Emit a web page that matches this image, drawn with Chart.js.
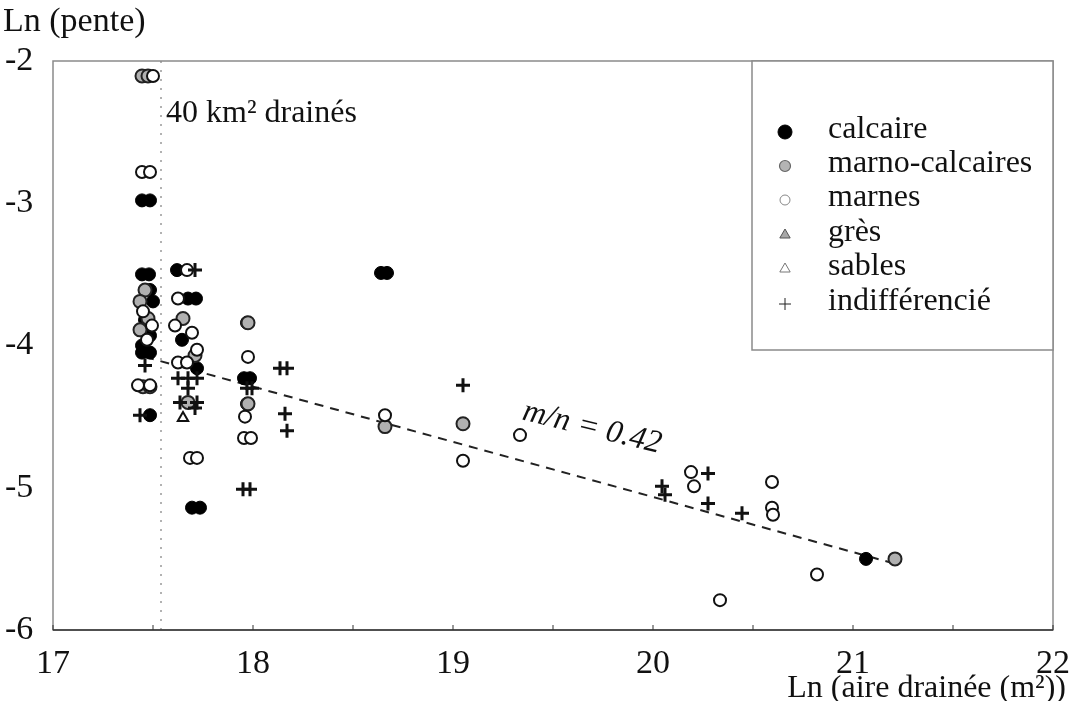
<!DOCTYPE html>
<html>
<head>
<meta charset="utf-8">
<script src="https://cdn.jsdelivr.net/npm/chart.js@4"></script>
<style>
  body { margin: 0; background: #fff; }
</style>
</head>
<body>
<canvas id="chart" width="1073" height="701"></canvas>
<script>
  // values: [Ln(aire drainée), Ln(pente)]
  let calcaire = [
    [17.445, -2.98], [17.485, -2.98], [17.445, -3.50], [17.48, -3.50], [17.485, -3.61],
    [17.50, -3.69], [17.46, -3.82], [17.485, -3.93], [17.445, -4.00], [17.445, -4.05],
    [17.485, -4.05], [17.485, -4.49],
    [17.62, -3.47], [17.675, -3.67], [17.715, -3.67], [17.645, -3.96], [17.72, -4.16],
    [17.695, -5.14], [17.735, -5.14],
    [17.97, -3.84], [17.955, -4.23], [17.985, -4.23], [17.97, -4.41],
    [18.64, -3.49], [18.67, -3.49], [21.065, -5.50]
  ];
  let marnoCalcaires = [
    [17.445, -2.105], [17.475, -2.105], [17.46, -3.61], [17.435, -3.69], [17.435, -3.89],
    [17.475, -3.81], [17.45, -4.29], [17.485, -4.29],
    [17.65, -3.81], [17.71, -4.07], [17.675, -4.40],
    [17.975, -3.84], [17.975, -4.41], [18.66, -4.57], [19.05, -4.55], [21.21, -5.50]
  ];
  let marnes = [
    [17.50, -2.105], [17.445, -2.78], [17.485, -2.78], [17.45, -3.76], [17.495, -3.86],
    [17.47, -3.96], [17.485, -4.28], [17.425, -4.28],
    [17.67, -3.47], [17.625, -3.67], [17.61, -3.86], [17.695, -3.91], [17.625, -4.12],
    [17.67, -4.12], [17.72, -4.03], [17.685, -4.79], [17.72, -4.79],
    [17.975, -4.08], [17.96, -4.50], [17.955, -4.65], [17.99, -4.65],
    [18.66, -4.49], [19.05, -4.81], [19.335, -4.63],
    [20.19, -4.89], [20.205, -4.99], [20.595, -4.96], [20.595, -5.14], [20.60, -5.19],
    [20.82, -5.61], [20.335, -5.79]
  ];
  let gres = [];
  let sables = [[17.65, -4.51]];
  let indifferencie = [
    [17.46, -4.14], [17.435, -4.49], [17.71, -3.47],
    [17.625, -4.23], [17.675, -4.23], [17.72, -4.23], [17.675, -4.30],
    [17.635, -4.40], [17.72, -4.40], [17.71, -4.44],
    [17.97, -4.30], [17.995, -4.30], [18.135, -4.16], [18.17, -4.16], [18.16, -4.48],
    [18.17, -4.60], [17.95, -5.01], [17.985, -5.01], [19.05, -4.28],
    [20.045, -4.99], [20.06, -5.05], [20.275, -4.90], [20.275, -5.11], [20.445, -5.18]
  ];
  // fitted line m/n = 0.42 and the 40 km² threshold
  let regression = [[17.46, -4.08], [21.225, -5.54]];
  let threshold40 = [[17.54, -2], [17.54, -6]];

  let xTickLabels = [17, 18, 19, 20, 21, 22];
  let yTickLabels = [-6, -5, -4, -3, -2];

  let serif = '"Liberation Serif", "DejaVu Serif", serif';

  function toPoints(list) {
    return list.map(p => ({ x: p[0], y: p[1] }));
  }

  let legendItems = [
    { label: 'calcaire', style: 'circle', radius: 7, fill: '#000', stroke: '#000', width: 1 },
    { label: 'marno-calcaires', style: 'circle', radius: 5.5, fill: '#b4b4b4', stroke: '#666', width: 1.2 },
    { label: 'marnes', style: 'circle', radius: 5, fill: '#fff', stroke: '#888', width: 1 },
    { label: 'grès', style: 'triangle', radius: 6, fill: '#a8a8a8', stroke: '#555', width: 1 },
    { label: 'sables', style: 'triangle', radius: 6, fill: '#fff', stroke: '#777', width: 1 },
    { label: 'indifférencié', style: 'cross', radius: 6, fill: '#000', stroke: '#222', width: 1 }
  ];

  let decorPlugin = {
    id: 'decor',
    afterDraw(chart) {
      let ctx = chart.ctx;
      let area = chart.chartArea;
      let xs = chart.scales.x;
      ctx.save();

      // frame
      ctx.strokeStyle = '#8a8a8a';
      ctx.lineWidth = 1.5;
      ctx.strokeRect(area.left, area.top, area.right - area.left, area.bottom - area.top);
      ctx.strokeStyle = '#333';
      ctx.beginPath();
      ctx.moveTo(area.left, area.bottom);
      ctx.lineTo(area.right, area.bottom);
      ctx.stroke();

      // small inward ticks every 0.5
      ctx.lineWidth = 1;
      for (let v = 17; v <= 22.001; v += 0.5) {
        let px = xs.getPixelForValue(v);
        ctx.beginPath();
        ctx.moveTo(px, area.bottom);
        ctx.lineTo(px, area.bottom - 5);
        ctx.stroke();
      }

      // legend box
      let bx = 752, by = area.top;
      ctx.fillStyle = '#fff';
      ctx.fillRect(bx, by, area.right - bx, 289);
      ctx.strokeStyle = '#8a8a8a';
      ctx.lineWidth = 1.5;
      ctx.strokeRect(bx, by, area.right - bx, 289);
      let rows = [130, 164, 198, 233, 267, 302];
      legendItems.forEach((item, i) => {
        ctx.fillStyle = item.fill;
        ctx.strokeStyle = item.stroke;
        ctx.lineWidth = item.width;
        Chart.helpers.drawPoint(ctx, {
          pointStyle: item.style, radius: item.radius, rotation: 0, borderWidth: item.width
        }, 785, rows[i] + 2);
        ctx.fillStyle = '#111';
        ctx.font = '32px ' + serif;
        ctx.textAlign = 'left';
        ctx.textBaseline = 'middle';
        ctx.fillText(item.label, 828, rows[i]);
      });

      // titles and notes
      ctx.fillStyle = '#111';
      ctx.textBaseline = 'alphabetic';
      ctx.font = '34px ' + serif;
      ctx.textAlign = 'left';
      ctx.fillText('Ln (pente)', 3, 31);
      ctx.font = '32px ' + serif;
      ctx.textAlign = 'right';
      ctx.fillText('Ln (aire drainée (m²))', 1066, 697);
      ctx.textAlign = 'left';
      ctx.font = '32px ' + serif;
      ctx.fillText('40 km² drainés', 166, 122);

      ctx.translate(592, 428);
      ctx.rotate(0.24);
      ctx.font = 'italic 32px ' + serif;
      ctx.textAlign = 'center';
      ctx.textBaseline = 'middle';
      ctx.fillText('m/n = 0.42', 0, 0);
      ctx.restore();
    }
  };

  function scatterSet(label, list, style, radius, fill, stroke, width) {
    return {
      type: 'scatter',
      label: label,
      data: toPoints(list),
      pointStyle: style,
      pointRadius: radius,
      pointBackgroundColor: fill,
      pointBorderColor: stroke,
      pointBorderWidth: width,
      order: 1
    };
  }

  let chartConfig = {
    type: 'scatter',
    data: {
      datasets: [
        scatterSet('indifférencié', indifferencie, 'cross', 7, '#111', '#111', 3),
        scatterSet('sables', sables, 'triangle', 6, '#fff', '#111', 2),
        scatterSet('grès', gres, 'triangle', 6, '#999', '#222', 1.5),
        scatterSet('marnes', marnes, 'circle', 6, '#fff', '#111', 2),
        scatterSet('marno-calcaires', marnoCalcaires, 'circle', 6.5, '#b0b0b0', '#222', 2),
        scatterSet('calcaire', calcaire, 'circle', 6.5, '#000', '#000', 1),
        {
          type: 'line',
          label: 'm/n = 0.42',
          data: toPoints(regression),
          borderColor: '#222',
          borderWidth: 2,
          borderDash: [9, 7],
          pointRadius: 0,
          fill: false,
          order: 5
        },
        {
          type: 'line',
          label: '40 km²',
          data: toPoints(threshold40),
          borderColor: '#999',
          borderWidth: 1.5,
          borderDash: [2, 7],
          pointRadius: 0,
          fill: false,
          order: 6
        }
      ]
    },
    options: {
      responsive: false,
      animation: false,
      devicePixelRatio: 1,
      layout: { padding: { top: 61, right: 20, bottom: 0, left: 5 } },
      plugins: {
        legend: { display: false },
        tooltip: { enabled: false }
      },
      scales: {
        x: {
          type: 'linear',
          min: 17,
          max: 22,
          grid: { display: false },
          border: { display: false },
          ticks: {
            stepSize: 0.5,
            autoSkip: false,
            maxRotation: 0,
            padding: 6,
            color: '#111',
            font: { family: serif, size: 34 },
            callback: v => xTickLabels.includes(v) ? String(v) : ''
          },
          afterFit: s => { s.height = 71; s.paddingLeft = 0; s.paddingRight = 0; }
        },
        y: {
          min: -6,
          max: -2,
          grid: { display: false },
          border: { display: false },
          ticks: {
            stepSize: 1,
            crossAlign: 'far',
            color: '#111',
            font: { family: serif, size: 34 },
            callback: v => yTickLabels.includes(v) ? String(v) : ''
          },
          afterFit: s => { s.width = 48; }
        }
      }
    },
    plugins: [decorPlugin]
  };

  new Chart(document.getElementById('chart').getContext('2d'), chartConfig);
</script>
</body>
</html>
